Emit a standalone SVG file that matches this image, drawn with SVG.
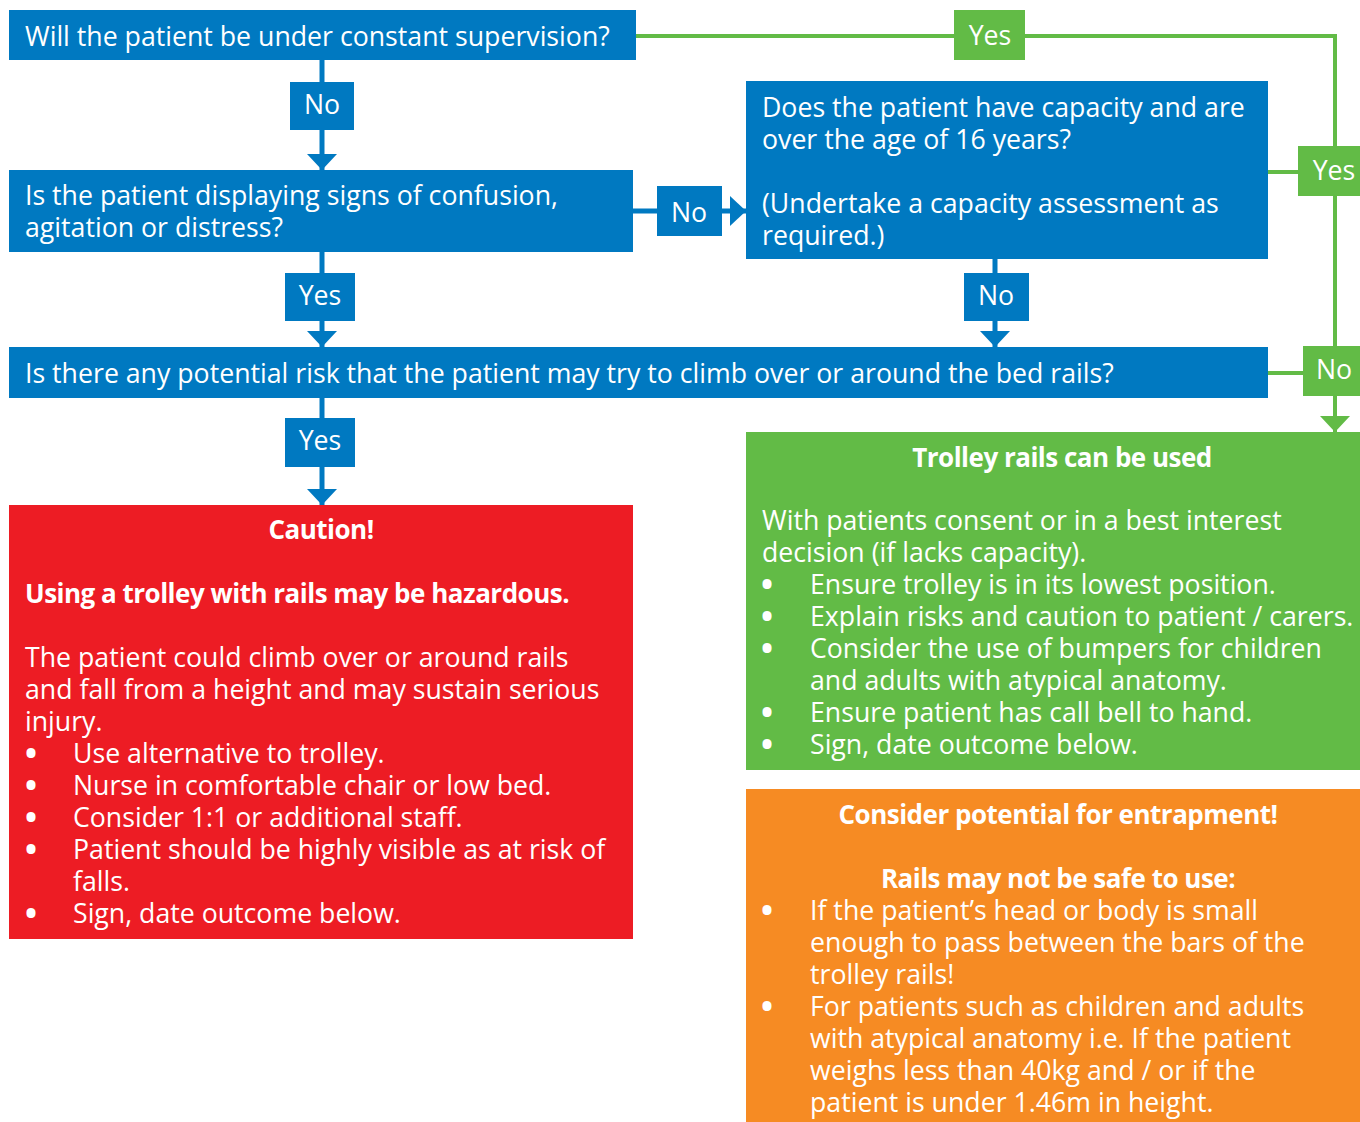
<svg xmlns="http://www.w3.org/2000/svg" width="1360" height="1122" viewBox="0 0 1360 1122">
<style>
text{font-family:"Open Sans","Noto Sans",sans-serif;font-size:26.7px;fill:#fff}
.b{font-weight:bold;font-size:26px;letter-spacing:-0.5px}
.c{text-anchor:middle}
.bl{font-size:32px;font-weight:bold}
.blue{fill:#0079C1}
.green{fill:#62BB46}
.red{fill:#ED1C24}
.orange{fill:#F68B23}
.lb{stroke:#0079C1;stroke-width:5;fill:none}
.lg{stroke:#62BB46;stroke-width:4;fill:none}
</style>
<defs>
<marker id="ab" viewBox="0 0 16 30" refX="16" refY="15" markerWidth="16" markerHeight="30" markerUnits="userSpaceOnUse" orient="auto"><path d="M0,0 L16,15 L0,30 Z" fill="#0079C1"/></marker>
<marker id="ag" viewBox="0 0 16 30" refX="16" refY="15" markerWidth="16" markerHeight="30" markerUnits="userSpaceOnUse" orient="auto"><path d="M0,0 L16,15 L0,30 Z" fill="#62BB46"/></marker>
</defs>
<g id="connectors">
<path class="lb" d="M322,60 V170" marker-end="url(#ab)"/>
<path class="lb" d="M322,252 V347" marker-end="url(#ab)"/>
<path class="lb" d="M322,398 V505" marker-end="url(#ab)"/>
<path class="lb" d="M633,211 H746" marker-end="url(#ab)"/>
<path class="lb" d="M995,259 V347" marker-end="url(#ab)"/>
<path class="lg" d="M636,36 H1335 V432" marker-end="url(#ag)"/>
<path class="lg" d="M1268,172 H1335"/>
<path class="lg" d="M1268,373 H1335"/>
<rect class="blue" x="290" y="82" width="64" height="48"/>
<text class="c" x="322" y="114">No</text>
<rect class="blue" x="657" y="186" width="65" height="50"/>
<text class="c" x="689" y="222">No</text>
<rect class="blue" x="285" y="273" width="70" height="48"/>
<text class="c" x="320" y="305">Yes</text>
<rect class="blue" x="964" y="273" width="65" height="48"/>
<text class="c" x="996" y="305">No</text>
<rect class="blue" x="285" y="418" width="70" height="49"/>
<text class="c" x="320" y="450">Yes</text>
<rect class="green" x="954" y="10" width="71" height="50"/>
<text class="c" x="990" y="45">Yes</text>
<rect class="green" x="1298" y="146" width="62" height="50"/>
<text class="c" x="1334" y="180">Yes</text>
<rect class="green" x="1303" y="346" width="57" height="50"/>
<text class="c" x="1334" y="379">No</text>
</g>
<g id="q1">
<rect class="blue" x="9" y="10" width="627" height="50"/>
<text x="25" y="46">Will the patient be under constant supervision?</text>
</g>
<g id="q2">
<rect class="blue" x="9" y="170" width="624" height="82"/>
<text x="25" y="205">Is the patient displaying signs of confusion,<tspan x="25" dy="32">agitation or distress?</tspan></text>
</g>
<g id="q3">
<rect class="blue" x="746" y="81" width="522" height="178"/>
<text x="762" y="117">Does the patient have capacity and are<tspan x="762" dy="32">over the age of 16 years?</tspan><tspan x="762" dy="64">(Undertake a capacity assessment as</tspan><tspan x="762" dy="32">required.)</tspan></text>
</g>
<g id="q4">
<rect class="blue" x="9" y="347" width="1259" height="51"/>
<text x="25" y="383">Is there any potential risk that the patient may try to climb over or around the bed rails?</text>
</g>
<g id="caution">
<rect class="red" x="9" y="505" width="624" height="434"/>
<text x="25" y="539"><tspan class="b c" x="321">Caution!</tspan><tspan class="b" x="25" dy="64">Using a trolley with rails may be hazardous.</tspan><tspan x="25" dy="64">The patient could climb over or around rails</tspan><tspan x="25" dy="32">and fall from a height and may sustain serious</tspan><tspan x="25" dy="32">injury.</tspan><tspan class="bl" x="25" dy="34">•</tspan><tspan x="73" dy="-2">Use alternative to trolley.</tspan><tspan class="bl" x="25" dy="34">•</tspan><tspan x="73" dy="-2">Nurse in comfortable chair or low bed.</tspan><tspan class="bl" x="25" dy="34">•</tspan><tspan x="73" dy="-2">Consider 1:1 or additional staff.</tspan><tspan class="bl" x="25" dy="34">•</tspan><tspan x="73" dy="-2">Patient should be highly visible as at risk of</tspan><tspan x="73" dy="32">falls.</tspan><tspan class="bl" x="25" dy="34">•</tspan><tspan x="73" dy="-2">Sign, date outcome below.</tspan></text>
</g>
<g id="rails-ok">
<rect class="green" x="746" y="432" width="614" height="338"/>
<text x="762" y="467"><tspan class="b c" x="1062">Trolley rails can be used</tspan><tspan x="762" dy="63">With patients consent or in a best interest</tspan><tspan x="762" dy="32">decision (if lacks capacity).</tspan><tspan class="bl" x="761" dy="34">•</tspan><tspan x="810" dy="-2">Ensure trolley is in its lowest position.</tspan><tspan class="bl" x="761" dy="34">•</tspan><tspan x="810" dy="-2">Explain risks and caution to patient / carers.</tspan><tspan class="bl" x="761" dy="34">•</tspan><tspan x="810" dy="-2">Consider the use of bumpers for children</tspan><tspan x="810" dy="32">and adults with atypical anatomy.</tspan><tspan class="bl" x="761" dy="34">•</tspan><tspan x="810" dy="-2">Ensure patient has call bell to hand.</tspan><tspan class="bl" x="761" dy="34">•</tspan><tspan x="810" dy="-2">Sign, date outcome below.</tspan></text>
</g>
<g id="entrapment">
<rect class="orange" x="746" y="789" width="614" height="333"/>
<text x="762" y="824"><tspan class="b c" x="1058">Consider potential for entrapment!</tspan><tspan class="b c" x="1058" dy="64">Rails may not be safe to use:</tspan><tspan class="bl" x="761" dy="34">•</tspan><tspan x="810" dy="-2">If the patient’s head or body is small</tspan><tspan x="810" dy="32">enough to pass between the bars of the</tspan><tspan x="810" dy="32">trolley rails!</tspan><tspan class="bl" x="761" dy="34">•</tspan><tspan x="810" dy="-2">For patients such as children and adults</tspan><tspan x="810" dy="32">with atypical anatomy i.e. If the patient</tspan><tspan x="810" dy="32">weighs less than 40kg and / or if the</tspan><tspan x="810" dy="32">patient is under 1.46m in height.</tspan></text>
</g>
</svg>
